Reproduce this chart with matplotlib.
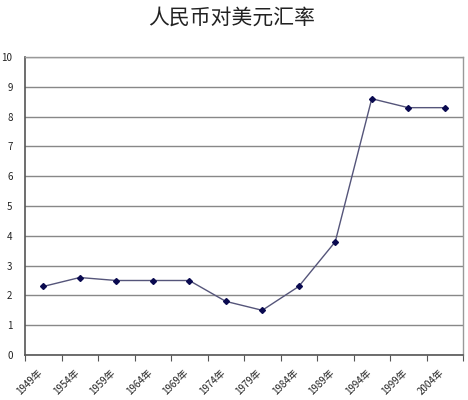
import matplotlib
matplotlib.use("Agg")
import matplotlib.pyplot as plt
import matplotlib.transforms as mtransforms
import numpy as np

plt.rcParams['font.family'] = ['Noto Sans CJK SC', 'DejaVu Sans']

years = ["1949年", "1954年", "1959年", "1964年", "1969年", "1974年",
         "1979年", "1984年", "1989年", "1994年", "1999年", "2004年"]
rates = [2.3, 2.6, 2.5, 2.5, 2.5, 1.8, 1.5, 2.3, 3.8, 8.6, 8.3, 8.3]
yticks = list(range(0, 11))

fig = plt.figure(figsize=(4.68, 4.00), dpi=100)
ax = fig.add_axes([25/468, 45/400, 438/468, 298/400])

x = np.arange(len(years))
ax.plot(x, rates, color='#55557a', lw=1.0, marker='D', ms=3,
        mfc='#0a0a50', mec='#0a0a50', zorder=3)

ax.set_xlim(-0.5, len(years) - 0.5)
ax.set_ylim(0, 10)
ax.set_yticks(yticks)
ax.set_yticklabels([str(v) for v in yticks], fontsize=7, color='#222222')
ax.tick_params(axis='y', length=0, pad=9)
ax.yaxis.grid(True, color='#888888', lw=1.0)
ax.set_axisbelow(True)

ax.set_xticks(np.arange(len(years) + 1) - 0.5)
ax.set_xticklabels([])
ax.set_xticks(x, minor=True)
ax.set_xticklabels(years, minor=True, rotation=45, ha='right', va='top',
                   rotation_mode='anchor', fontsize=7, color='#222222')
ax.tick_params(axis='x', which='major', length=4, direction='out', color='#555555')
ax.tick_params(axis='x', which='minor', length=0, pad=9)

offset = mtransforms.ScaledTranslation(-6/100, 0, fig.dpi_scale_trans)
for lbl in ax.xaxis.get_minorticklabels():
    lbl.set_transform(lbl.get_transform() + offset)

for s in ['left', 'bottom']:
    ax.spines[s].set_color('#555555')
    ax.spines[s].set_linewidth(1.2)
for s in ['top', 'right']:
    ax.spines[s].set_color('#999999')
    ax.spines[s].set_linewidth(1.0)

fig.text(0.494, 0.955, "人民币对美元汇率", ha='center', va='center',
         fontsize=15, color='#222222')

fig.savefig("out.png", dpi=100)
